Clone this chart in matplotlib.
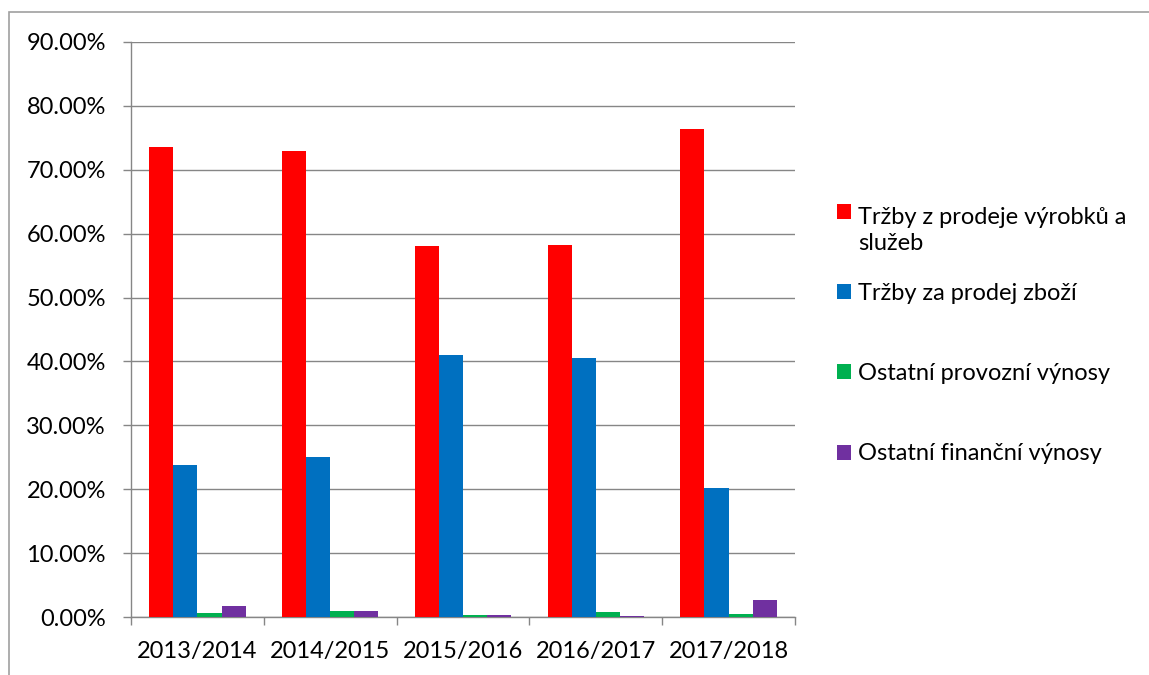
import matplotlib
matplotlib.use("Agg")
import matplotlib.pyplot as plt
import numpy as np
from matplotlib.patches import Rectangle
from matplotlib.ticker import FixedLocator, PercentFormatter

categories = ["2013/2014", "2014/2015", "2015/2016", "2016/2017", "2017/2018"]
series_names = ["Tržby z prodeje výrobků a\nslužeb", "Tržby za prodej zboží",
                "Ostatní provozní výnosy", "Ostatní finanční výnosy"]
trzby_vyrobky = [73.5, 72.9, 58.1, 58.2, 76.4]
trzby_zbozi = [23.8, 25.0, 41.0, 40.5, 20.2]
ostatni_provozni = [0.67, 0.89, 0.37, 0.78, 0.52]
ostatni_financni = [1.77, 0.94, 0.31, 0.15, 2.7]
colors = ["#FF0000", "#0070C0", "#00B050", "#7030A0"]

plt.rcParams['font.family'] = ['Lato', 'DejaVu Sans']

W, H = 1149, 675
fig = plt.figure(figsize=(W/100, H/100), dpi=100)
ax = fig.add_axes([131/W, 1-617/H, (795-131)/W, (617-42)/H])

series = [trzby_vyrobky, trzby_zbozi, ostatni_provozni, ostatni_financni]
n = len(series)
bw = 1.0 / (n + 1.5)
x = np.arange(len(categories))
for i, (vals, c) in enumerate(zip(series, colors)):
    ax.bar(x - 2*bw + bw*i + bw/2, vals, width=bw, color=c, zorder=3)

FS = 17
ax.set_xlim(-0.5, len(categories) - 0.5)
ax.set_ylim(0, 90)
ax.set_yticks(np.arange(0, 91, 10))
ax.yaxis.set_major_formatter(PercentFormatter(decimals=2))
ax.grid(axis='y', color='#868686', linewidth=1, zorder=0)
ax.set_xticks(x)
ax.set_xticklabels(categories)
ax.xaxis.set_minor_locator(FixedLocator(np.arange(-0.5, len(categories), 1)))
ax.tick_params(axis='x', which='major', length=0, pad=17, labelsize=FS)
ax.tick_params(axis='x', which='minor', length=6, color='#868686', width=1)
ax.tick_params(axis='y', length=6, color='#868686', width=1, labelsize=FS, pad=12)
for s in ['top', 'right']:
    ax.spines[s].set_visible(False)
for s in ['left', 'bottom']:
    ax.spines[s].set_color('#868686')
    ax.spines[s].set_linewidth(1)

# legend (manual layout to mimic spreadsheet legend slots)
sq_centers = [211.5, 291.5, 372, 452]
line_step = 30
for name, c, yc in zip(series_names, colors, sq_centers):
    fig.patches.append(Rectangle((837/W, 1-(yc+7.5)/H), 14/W, 15/H,
                                 transform=fig.transFigure, facecolor=c, edgecolor='none'))
    nlines = name.count("\n") + 1
    base_last = yc + 8.5 + line_step * (nlines - 1)
    fig.text(858/W, 1-base_last/H, name, fontsize=FS, va='baseline', ha='left',
             linespacing=1.27, color='#000000')

fig.patches.append(Rectangle((9/W, -0.1), 1.2, 1.1 - 12/H, transform=fig.transFigure,
                             fill=False, edgecolor='#A0A0A0', linewidth=1.2))

fig.savefig("out.png", dpi=100)
